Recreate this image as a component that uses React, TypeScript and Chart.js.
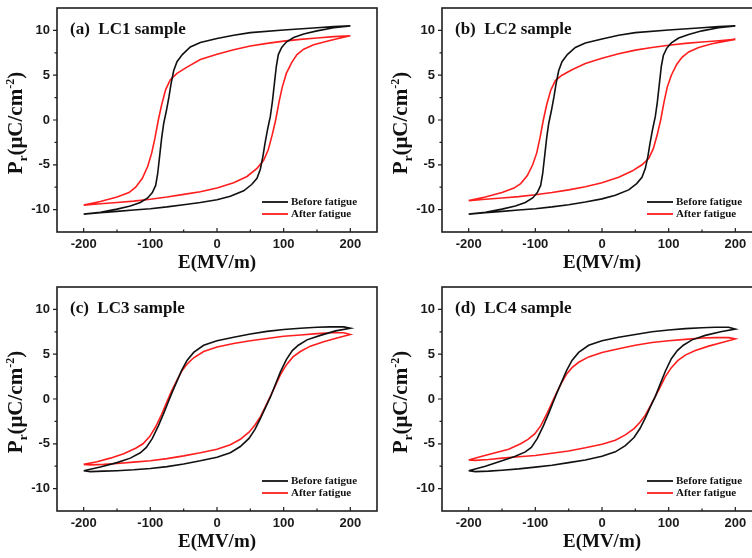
import React, { useEffect, useRef } from "react";
import { Chart, registerables } from "chart.js";

Chart.register(...registerables);

type Pt = [number, number];

// ---- axis ticks ----
const E_TICKS = [-200, -100, 0, 100, 200];
const E_MINOR = [-150, -50, 50, 150];
const P_TICKS = [-10, -5, 0, 5, 10];
const P_MINOR = [-7.5, -2.5, 2.5, 7.5];
const E_RANGE = [-240, 240];
const P_RANGE = [-12.5, 12.5];

const SERIES_LABELS = ["Before fatigue", "After fatigue"];
const PANEL_LABELS = ["(a)  LC1 sample", "(b)  LC2 sample", "(c)  LC3 sample", "(d)  LC4 sample"];
const X_TITLE = "E(MV/m)";

// ---- data: P-E loops, [E (MV/m), P (uC/cm^2)] ----
const LC1_BEFORE: Pt[] = [
  [-200, -10.5], [-175, -10.35], [-150, -10.2], [-125, -10.05], [-100, -9.9], [-75, -9.7], [-50, -9.45],
  [-25, -9.2], [0, -8.9], [20, -8.5], [40, -7.9], [52, -7.2], [60, -6.5], [65, -5.5], [69, -4.0], [72, -2.6],
  [76, -1.0], [80, 0.4], [83, 2.0], [86, 4.0], [89, 6.0], [92, 7.3], [97, 8.1], [104, 8.7], [115, 9.2],
  [130, 9.6], [150, 9.95], [175, 10.3], [200, 10.5],
  [175, 10.42], [150, 10.3], [100, 10.05], [50, 9.75], [25, 9.45], [0, 9.1], [-25, 8.65], [-40, 8.15],
  [-52, 7.3], [-60, 6.5], [-65, 5.5], [-69, 4.0], [-72, 2.6], [-76, 1.0], [-80, -0.4], [-83, -2.0],
  [-86, -4.0], [-89, -6.0], [-92, -7.3], [-97, -8.1], [-104, -8.7], [-115, -9.2], [-130, -9.6],
  [-150, -9.95], [-175, -10.3], [-200, -10.5],
];
const LC1_AFTER: Pt[] = [
  [-200, -9.5], [-175, -9.35], [-150, -9.2], [-125, -9.05], [-100, -8.85], [-75, -8.6], [-50, -8.3],
  [-25, -8.0], [0, -7.6], [25, -7.0], [45, -6.3], [60, -5.4], [70, -4.5], [77, -3.3], [83, -1.6], [88, 0],
  [93, 2.0], [98, 3.7], [104, 5.2], [112, 6.4], [120, 7.3], [130, 7.9], [145, 8.4], [165, 8.8],
  [185, 9.15], [200, 9.4],
  [175, 9.3], [150, 9.15], [125, 9.0], [100, 8.8], [75, 8.55], [50, 8.25], [25, 7.85], [0, 7.35],
  [-25, 6.75], [-45, 5.9], [-60, 5.2], [-70, 4.5], [-77, 3.4], [-83, 1.7], [-88, 0], [-93, -2.0],
  [-98, -3.7], [-104, -5.2], [-112, -6.5], [-122, -7.5], [-132, -8.1], [-150, -8.6], [-175, -9.1],
  [-200, -9.5],
];
const LC2_BEFORE: Pt[] = [
  [-200, -10.5], [-175, -10.35], [-150, -10.2], [-125, -10.05], [-100, -9.9], [-75, -9.7], [-50, -9.45],
  [-25, -9.15], [0, -8.8], [20, -8.4], [40, -7.8], [52, -7.1], [60, -6.4], [65, -5.4], [69, -4.0],
  [72, -2.6], [76, -1.0], [80, 0.4], [83, 2.0], [86, 4.0], [89, 6.0], [92, 7.2], [97, 8.0], [104, 8.6],
  [115, 9.15], [130, 9.55], [150, 9.95], [175, 10.3], [200, 10.5],
  [175, 10.42], [150, 10.3], [100, 10.05], [50, 9.75], [25, 9.45], [0, 9.05], [-25, 8.6], [-40, 8.1],
  [-52, 7.3], [-60, 6.5], [-65, 5.5], [-69, 4.0], [-72, 2.6], [-76, 1.0], [-80, -0.4], [-83, -2.0],
  [-86, -4.0], [-89, -6.0], [-92, -7.3], [-97, -8.1], [-104, -8.7], [-115, -9.2], [-130, -9.6],
  [-150, -9.95], [-175, -10.3], [-200, -10.5],
];
const LC2_AFTER: Pt[] = [
  [-200, -9.0], [-175, -8.85], [-150, -8.7], [-125, -8.55], [-100, -8.35], [-75, -8.1], [-50, -7.8],
  [-25, -7.45], [0, -7.0], [25, -6.4], [45, -5.7], [60, -5.0], [70, -4.3], [77, -3.2], [83, -1.6],
  [88, 0], [93, 2.0], [98, 3.7], [104, 5.0], [112, 6.2], [120, 7.0], [130, 7.6], [145, 8.1],
  [165, 8.5], [185, 8.8], [200, 9.0],
  [175, 8.85], [150, 8.7], [125, 8.55], [100, 8.35], [75, 8.1], [50, 7.8], [25, 7.4], [0, 6.9],
  [-25, 6.3], [-45, 5.6], [-60, 5.0], [-70, 4.4], [-77, 3.3], [-83, 1.7], [-88, 0], [-93, -2.0],
  [-98, -3.7], [-104, -5.0], [-112, -6.2], [-122, -7.1], [-132, -7.6], [-150, -8.1], [-175, -8.6],
  [-200, -9.0],
];
const LC3_BEFORE: Pt[] = [
  [-200, -8.0], [-190, -8.1], [-170, -8.05], [-150, -8.0], [-125, -7.9], [-100, -7.75], [-75, -7.55],
  [-50, -7.25], [-25, -6.9], [0, -6.5], [20, -6.0], [35, -5.3], [48, -4.4], [57, -3.4], [65, -2.2],
  [73, -0.9], [80, 0.2], [87, 1.5], [95, 3.0], [104, 4.4], [113, 5.4], [122, 6.0], [135, 6.6],
  [155, 7.1], [178, 7.6], [200, 7.9],
  [190, 8.05], [170, 8.05], [150, 8.0], [125, 7.9], [100, 7.75], [75, 7.55], [50, 7.25], [25, 6.9],
  [0, 6.5], [-20, 6.0], [-35, 5.2], [-45, 4.3], [-53, 3.2], [-60, 2.0], [-67, 0.8], [-73, -0.3],
  [-80, -1.6], [-88, -3.0], [-97, -4.4], [-106, -5.4], [-115, -6.0], [-130, -6.6], [-150, -7.1],
  [-175, -7.6], [-200, -8.0],
];
const LC3_AFTER: Pt[] = [
  [-200, -7.3], [-190, -7.35], [-170, -7.3], [-150, -7.2], [-125, -7.05], [-100, -6.9], [-75, -6.65],
  [-50, -6.35], [-25, -6.0], [0, -5.6], [20, -5.1], [35, -4.5], [48, -3.7], [57, -2.9], [65, -2.0],
  [73, -0.8], [80, 0.3], [87, 1.4], [95, 2.7], [104, 3.8], [114, 4.7], [125, 5.3], [140, 5.9],
  [160, 6.4], [180, 6.8], [200, 7.2],
  [190, 7.4], [170, 7.4], [150, 7.3], [125, 7.15], [100, 7.0], [75, 6.75], [50, 6.5], [25, 6.2],
  [0, 5.8], [-20, 5.3], [-35, 4.6], [-45, 3.9], [-53, 3.1], [-60, 2.1], [-68, 0.9], [-75, -0.3],
  [-83, -1.7], [-92, -3.1], [-101, -4.2], [-111, -5.0], [-122, -5.5], [-140, -6.1], [-160, -6.6],
  [-180, -7.0], [-200, -7.3],
];
const LC4_BEFORE: Pt[] = [
  [-200, -8.0], [-190, -8.1], [-170, -8.05], [-150, -7.95], [-125, -7.8], [-100, -7.6], [-75, -7.4],
  [-50, -7.1], [-25, -6.8], [0, -6.4], [20, -5.9], [35, -5.2], [48, -4.3], [57, -3.3], [65, -2.1],
  [73, -0.8], [80, 0.3], [87, 1.6], [95, 3.1], [104, 4.5], [113, 5.4], [122, 6.0], [135, 6.6],
  [155, 7.1], [178, 7.5], [200, 7.8],
  [190, 8.0], [170, 8.0], [150, 7.95], [125, 7.85], [100, 7.7], [75, 7.5], [50, 7.2], [25, 6.9],
  [0, 6.5], [-20, 6.0], [-35, 5.2], [-45, 4.3], [-53, 3.2], [-60, 2.0], [-67, 0.8], [-73, -0.3],
  [-80, -1.6], [-88, -3.0], [-97, -4.4], [-106, -5.4], [-115, -5.9], [-130, -6.4], [-150, -6.9],
  [-175, -7.5], [-200, -8.0],
];
const LC4_AFTER: Pt[] = [
  [-200, -6.8], [-190, -6.85], [-170, -6.75], [-150, -6.6], [-125, -6.45], [-100, -6.3], [-75, -6.05],
  [-50, -5.8], [-25, -5.45], [0, -5.05], [20, -4.6], [35, -4.0], [48, -3.3], [57, -2.6], [65, -1.8],
  [73, -0.7], [80, 0.3], [87, 1.3], [95, 2.5], [104, 3.5], [114, 4.3], [125, 4.9], [140, 5.4],
  [160, 5.9], [180, 6.3], [200, 6.7],
  [190, 6.85], [170, 6.85], [150, 6.8], [125, 6.65], [100, 6.5], [75, 6.3], [50, 6.0], [25, 5.6],
  [0, 5.2], [-20, 4.7], [-35, 4.1], [-45, 3.5], [-53, 2.8], [-60, 1.9], [-68, 0.7], [-75, -0.4],
  [-83, -1.7], [-92, -3.0], [-101, -3.9], [-111, -4.5], [-122, -5.0], [-140, -5.6], [-160, -6.0],
  [-180, -6.4], [-200, -6.8],
];

const BEFORE_SETS = [LC1_BEFORE, LC2_BEFORE, LC3_BEFORE, LC4_BEFORE];
const AFTER_SETS = [LC1_AFTER, LC2_AFTER, LC3_AFTER, LC4_AFTER];

const COLORS = ["#111111", "#ff1e1e"];
const SERIF = '"Liberation Serif", "Times New Roman", serif';
const SANS = '"Liberation Sans", Arial, sans-serif';

const PANEL_W = 385;
const PANEL_H = 279;

const decorPlugin = {
  id: "decor",
  afterDraw(chart: any, _args: any, opts: any) {
    const { ctx, chartArea: a } = chart;
    const xs = chart.scales.x;
    const ys = chart.scales.y;
    ctx.save();
    // frame
    ctx.strokeStyle = "#1e1e1e";
    ctx.lineWidth = 1.6;
    ctx.strokeRect(a.left, a.top, a.right - a.left, a.bottom - a.top);
    // ticks
    ctx.lineWidth = 1.2;
    ctx.beginPath();
    E_TICKS.forEach((v) => {
      const px = xs.getPixelForValue(v);
      ctx.moveTo(px, a.bottom);
      ctx.lineTo(px, a.bottom - 4);
    });
    E_MINOR.forEach((v) => {
      const px = xs.getPixelForValue(v);
      ctx.moveTo(px, a.bottom);
      ctx.lineTo(px, a.bottom - 2.5);
    });
    P_TICKS.forEach((v) => {
      const py = ys.getPixelForValue(v);
      ctx.moveTo(a.left, py);
      ctx.lineTo(a.left - 4, py);
    });
    P_MINOR.forEach((v) => {
      const py = ys.getPixelForValue(v);
      ctx.moveTo(a.left, py);
      ctx.lineTo(a.left - 2.5, py);
    });
    ctx.stroke();

    ctx.fillStyle = "#111";
    // panel label
    ctx.font = `bold 17px ${SERIF}`;
    ctx.textAlign = "left";
    ctx.textBaseline = "middle";
    ctx.fillText(opts.label, a.left + 13, a.top + 22);

    // legend (inside, bottom right)
    chart.data.datasets.forEach((ds: any, i: number) => {
      const yy = a.bottom - 30 + i * 12;
      ctx.strokeStyle = ds.borderColor;
      ctx.lineWidth = 1.8;
      ctx.beginPath();
      ctx.moveTo(a.right - 115, yy);
      ctx.lineTo(a.right - 89, yy);
      ctx.stroke();
      ctx.font = `bold 11px ${SERIF}`;
      ctx.fillStyle = "#111";
      ctx.textAlign = "left";
      ctx.textBaseline = "middle";
      ctx.fillText(ds.label, a.right - 86, yy);
    });

    // x title
    ctx.font = `bold 19px ${SERIF}`;
    ctx.textAlign = "center";
    ctx.textBaseline = "middle";
    ctx.fillText(X_TITLE, (a.left + a.right) / 2, a.bottom + 31);

    // y title with sub/superscript
    const segs = [
      { t: "P", s: 21, dy: 0 },
      { t: "r", s: 13, dy: 5 },
      { t: "(\u03bcC/cm", s: 21, dy: 0 },
      { t: "-2", s: 12, dy: -8 },
      { t: ")", s: 21, dy: 0 },
    ];
    let total = 0;
    const widths = segs.map((g) => {
      ctx.font = `bold ${g.s}px ${SERIF}`;
      const w = ctx.measureText(g.t).width;
      total += w;
      return w;
    });
    ctx.translate(15, (a.top + a.bottom) / 2 + 3);
    ctx.rotate(-Math.PI / 2);
    ctx.textAlign = "left";
    ctx.textBaseline = "alphabetic";
    let cx = -total / 2;
    segs.forEach((g, i) => {
      ctx.font = `bold ${g.s}px ${SERIF}`;
      ctx.fillText(g.t, cx, 7 + g.dy);
      cx += widths[i];
    });
    ctx.restore();
  },
};

function Panel({ idx, left, top }: { idx: number; left: number; top: number }) {
  const ref = useRef<HTMLCanvasElement | null>(null);
  useEffect(() => {
    if (!ref.current) return;
    const sets = [BEFORE_SETS[idx], AFTER_SETS[idx]];
    const chart = new Chart(ref.current, {
      type: "scatter",
      data: {
        datasets: sets.map((s, i) => ({
          label: SERIES_LABELS[i],
          data: s.map(([x, y]) => ({ x, y })),
          showLine: true,
          borderColor: COLORS[i],
          backgroundColor: COLORS[i],
          borderWidth: 1.6,
          pointRadius: 0,
          tension: 0,
          fill: false,
        })),
      },
      options: {
        animation: false,
        responsive: false,
        events: [],
        layout: { padding: { top: 0, right: 8, left: 0, bottom: 0 } },
        plugins: {
          legend: { display: false },
          tooltip: { enabled: false },
          decor: { label: PANEL_LABELS[idx] },
        } as any,
        scales: {
          x: {
            type: "linear",
            min: E_RANGE[0],
            max: E_RANGE[1],
            afterBuildTicks: (s: any) => {
              s.ticks = E_TICKS.map((v) => ({ value: v }));
            },
            afterFit: (s: any) => {
              s.height = 47;
              s.paddingLeft = 0;
              s.paddingRight = 0;
            },
            grid: { display: false, drawTicks: false },
            border: { display: false },
            ticks: {
              padding: 5,
              color: "#1a1a1a",
              font: { family: SANS, weight: "bold", size: 13 },
            },
          },
          y: {
            type: "linear",
            min: P_RANGE[0],
            max: P_RANGE[1],
            afterBuildTicks: (s: any) => {
              s.ticks = P_TICKS.map((v) => ({ value: v }));
            },
            afterFit: (s: any) => {
              s.width = 57;
              s.paddingTop = 8;
              s.paddingBottom = 0;
            },
            grid: { display: false, drawTicks: false },
            border: { display: false },
            ticks: {
              padding: 7,
              color: "#1a1a1a",
              font: { family: SANS, weight: "bold", size: 13 },
            },
          },
        },
      },
      plugins: [decorPlugin as any],
    });
    return () => chart.destroy();
  }, [idx]);
  return (
    <canvas
      ref={ref}
      width={PANEL_W}
      height={PANEL_H}
      style={{ position: "absolute", left, top, width: PANEL_W, height: PANEL_H, display: "block" }}
    />
  );
}

export default function App() {
  return (
    <div
      style={{
        position: "fixed",
        left: 0,
        top: 0,
        width: 752,
        height: 558,
        overflow: "hidden",
        background: "#ffffff",
      }}
    >
      <Panel idx={0} left={0} top={0} />
      <Panel idx={1} left={PANEL_W} top={0} />
      <Panel idx={2} left={0} top={PANEL_H} />
      <Panel idx={3} left={PANEL_W} top={PANEL_H} />
    </div>
  );
}
